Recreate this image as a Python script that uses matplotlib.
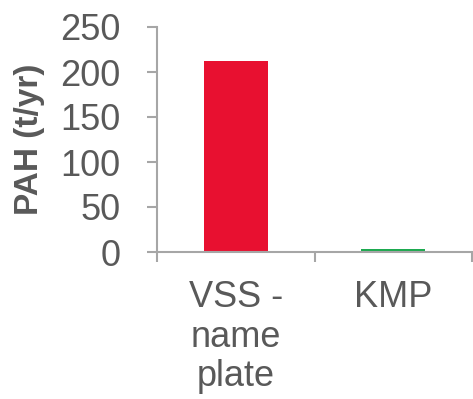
import matplotlib
matplotlib.use("Agg")
import matplotlib.pyplot as plt

categories = ["VSS -\nname\nplate", "KMP"]
values = [212, 3]
colors = ["#E81030", "#1DAA50"]
yticks = [0, 50, 100, 150, 200, 250]

plt.rcParams["font.family"] = ["Liberation Sans", "DejaVu Sans"]
text_color = "#595959"
axis_color = "#A6A6A6"

fig = plt.figure(figsize=(4.73, 3.99), dpi=100)
ax = fig.add_axes([157 / 473, 1 - 252 / 399, (472 - 157) / 473, 225 / 399])

x = list(range(len(categories)))
ax.bar(x, values, width=0.405, color=colors)

ax.set_xlim(-0.5, 1.5)
ax.set_ylim(0, 250)
ax.set_yticks(yticks)
ax.set_yticklabels([str(v) for v in yticks])

ax.set_xticks(x)
ax.set_xticklabels(categories, linespacing=1.18, va="top")
ax.set_xticks([-0.5, 0.5, 1.5], minor=True)

for s in ["top", "right"]:
    ax.spines[s].set_visible(False)
for s in ["left", "bottom"]:
    ax.spines[s].set_color(axis_color)
    ax.spines[s].set_linewidth(1.5)

ax.tick_params(axis="y", colors=axis_color, labelcolor=text_color,
               labelsize=26, length=7.5, width=1.5, pad=19)
ax.tick_params(axis="x", which="major", length=0, labelcolor=text_color,
               labelsize=26, pad=20)
ax.tick_params(axis="x", which="minor", length=7.5, width=1.5,
               colors=axis_color)

ax.set_ylabel("PAH (t/yr)", fontsize=24, fontweight="bold", color=text_color)
ax.yaxis.set_label_coords(-112 / 315, 0.5)

fig.savefig("out.png", dpi=100)
